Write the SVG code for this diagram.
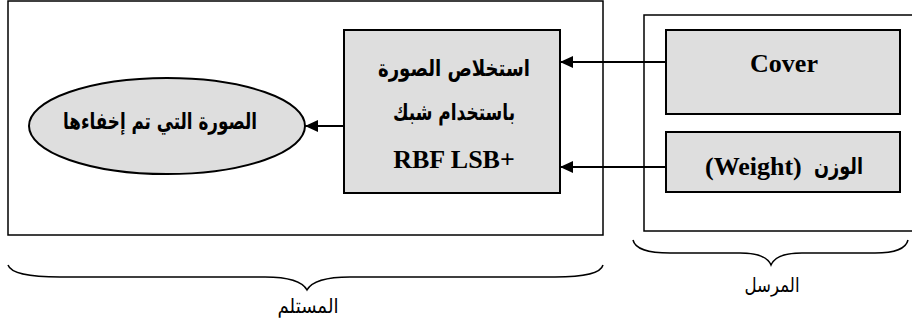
<svg xmlns="http://www.w3.org/2000/svg" width="912" height="322" viewBox="0 0 912 322">
<style>
.frame{fill:#fff;stroke:#000;stroke-width:1.5}
.box{fill:#dedede;stroke:#000;stroke-width:2}
.conn{stroke:#000;stroke-width:2;fill:none}
.brace{stroke:#000;stroke-width:1.5;fill:none}
.bt{font-family:"Liberation Serif",serif;font-weight:bold;font-size:26px;fill:#000;text-anchor:middle}
.ar{font-family:"DejaVu Sans",sans-serif;font-weight:bold;font-size:23px;fill:#000;text-anchor:middle}
.lab{font-family:"DejaVu Sans",serif;font-size:20px;fill:#000;text-anchor:middle}
</style>
<defs>
<marker id="ah" markerUnits="userSpaceOnUse" markerWidth="14" markerHeight="12" refX="13" refY="6" orient="auto">
<path d="M0,0 L13,6 L0,12 Z" fill="#000"/>
</marker>
</defs>
<g id="receiver">
<rect class="frame" x="8" y="1" width="595" height="234"/>
</g>
<g id="sender">
<rect class="frame" x="644" y="15" width="270" height="216"/>
</g>
<g id="hidden-image">
<ellipse cx="167" cy="126" rx="138" ry="48" class="box" stroke-width="1.5"/>
<text class="ar" x="160" y="129" textLength="194" lengthAdjust="spacingAndGlyphs">الصورة التي تم إخفاءها</text>
</g>
<g id="extract">
<rect class="box" x="344" y="30" width="216" height="163"/>
<text class="ar" x="454" y="76" textLength="152" lengthAdjust="spacingAndGlyphs">استخلاص الصورة</text>
<text class="ar" x="454" y="120" textLength="122" lengthAdjust="spacingAndGlyphs">باستخدام شبك</text>
<text class="bt" x="454" y="168">RBF LSB+</text>
</g>
<g id="cover">
<rect class="box" x="666" y="30" width="234" height="84"/>
<text class="bt" x="784" y="72">Cover</text>
</g>
<g id="weight">
<rect class="box" x="666" y="132" width="234" height="60"/>
<text class="bt" x="705" y="175" font-size="25" style="text-anchor:start">(Weight)</text>
<text class="ar" x="863" y="174" textLength="49" lengthAdjust="spacingAndGlyphs" style="text-anchor:end">الوزن</text>
</g>
<g id="connectors">
<line class="conn" x1="666" y1="62" x2="560" y2="62" marker-end="url(#ah)"/>
<line class="conn" x1="666" y1="167" x2="560" y2="167" marker-end="url(#ah)"/>
<line class="conn" x1="344" y1="126" x2="305" y2="126" marker-end="url(#ah)"/>
</g>
<g id="brace-receiver">
<path class="brace" d="M8,265 Q12,277 60,277 L265,277 Q300,277 307,290 Q314,277 350,277 L555,277 Q600,277 603,265"/>
<text class="lab" x="308" y="313" textLength="61" lengthAdjust="spacingAndGlyphs">المستلم</text>
</g>
<g id="brace-sender">
<path class="brace" d="M633,240 Q636,253 670,253 L740,253 Q766,253 771,265 Q776,253 802,253 L875,253 Q905,253 908,240"/>
<text class="lab" x="772" y="292" textLength="55" lengthAdjust="spacingAndGlyphs">المرسل</text>
</g>
</svg>
